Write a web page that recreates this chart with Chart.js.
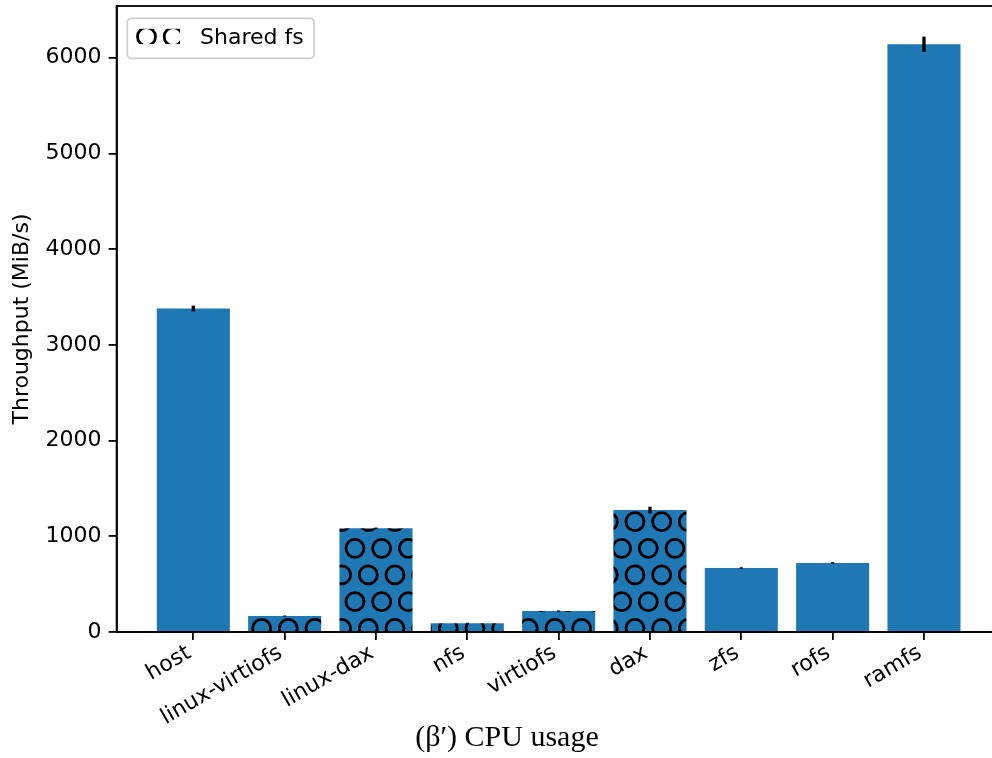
<!DOCTYPE html>
<html>
<head>
<meta charset="utf-8">
<script src="https://cdn.jsdelivr.net/npm/chart.js@4.4.0/dist/chart.umd.min.js"></script>
<style>
  html, body { margin: 0; padding: 0; background: #fff; overflow: hidden; }
  #wrap { width: 1014px; height: 758px; }
</style>
</head>
<body>
<div id="wrap"><canvas id="chart" width="1014" height="758"></canvas></div>
<script>
// Data
const categories = ['host', 'linux-virtiofs', 'linux-dax', 'nfs', 'virtiofs', 'dax', 'zfs', 'rofs', 'ramfs'];
const throughput = [3380, 167, 1083, 92, 219, 1274, 668, 721, 6140];
const errors = [30, 5, 8, 4, 6, 35, 8, 8, 80];
const sharedFs = [false, true, true, true, true, true, false, false, false];
const yTicks = [0, 1000, 2000, 3000, 4000, 5000, 6000];

const BLUE = '#1f77b4';
const SP = 160 / 6; // hatch spacing

// circle hatch tile, rows alternate by half a step (like matplotlib 'O')
function makeHatch(bg, x0, y0) {
    const tile = document.createElement('canvas');
    tile.width = 160;
    tile.height = 160;
    const c = tile.getContext('2d');
    if (bg) {
        c.fillStyle = bg;
        c.fillRect(0, 0, 160, 160);
    }
    c.strokeStyle = '#000';
    c.lineWidth = 2.8;
    for (let r = -2; r <= 8; r++) {
        const shift = (r % 2 === 0) ? 0 : SP / 2;
        for (let j = -2; j <= 8; j++) {
            c.beginPath();
            c.arc(x0 + shift + j * SP, y0 + r * SP, 9.0, 0, Math.PI * 2);
            c.stroke();
        }
    }
    return c.createPattern(tile, 'repeat');
}

const ctx = document.getElementById('chart').getContext('2d');
const barHatch = makeHatch(BLUE, 8.3, 14.97);
const legendHatch = makeHatch(null, 146.5 % SP, 36.7);

Chart.defaults.font.family = '"DejaVu Sans", sans-serif';
Chart.defaults.font.size = 22;
Chart.defaults.color = '#000';

const boxPlugin = {
    id: 'box',
    afterDatasetsDraw(chart) {
        const {ctx, scales: {x, y}} = chart;
        // error bars
        ctx.save();
        ctx.strokeStyle = '#000';
        ctx.lineWidth = 3.3;
        throughput.forEach((v, i) => {
            const px = x.getPixelForValue(i);
            ctx.beginPath();
            ctx.moveTo(px, y.getPixelForValue(v - errors[i]));
            ctx.lineTo(px, y.getPixelForValue(v + errors[i]));
            ctx.stroke();
        });
        ctx.restore();
    },
    afterDraw(chart) {
        const {ctx, chartArea: a} = chart;
        ctx.save();
        ctx.strokeStyle = '#000';
        ctx.lineWidth = 1.8;
        ctx.strokeRect(a.left, a.top, a.right - a.left, a.bottom - a.top);

        // legend
        ctx.beginPath();
        ctx.roundRect(127.3, 18.3, 186.7, 40, 4);
        ctx.fillStyle = 'rgba(255,255,255,0.8)';
        ctx.fill();
        ctx.strokeStyle = '#d0d0d0';
        ctx.lineWidth = 1.8;
        ctx.stroke();
        ctx.save();
        ctx.beginPath();
        ctx.rect(136, 28.6, 44, 15.6);
        ctx.clip();
        ctx.fillStyle = legendHatch;
        ctx.fillRect(136, 28.6, 44, 15.6);
        ctx.restore();
        ctx.fillStyle = '#000';
        ctx.font = '22px "DejaVu Sans"';
        ctx.textBaseline = 'middle';
        ctx.textAlign = 'left';
        ctx.fillText('Shared fs', 200, 38);

        // caption
        ctx.font = '30px "Liberation Serif"';
        ctx.textAlign = 'center';
        ctx.fillText('(\u03B2\u2032) CPU usage', 507, 738);
        ctx.restore();
    }
};

new Chart(ctx, {
    type: 'bar',
    data: {
        datasets: [{
            data: throughput.map((v, i) => ({x: i, y: v})),
            backgroundColor: sharedFs.map(h => h ? barHatch : BLUE),
            borderWidth: 0,
            barPercentage: 0.8,
            categoryPercentage: 1.0
        }]
    },
    options: {
        responsive: false,
        animation: false,
        devicePixelRatio: 1,
        layout: { padding: { top: 6, right: 13.3, left: 0, bottom: 0 } },
        plugins: { legend: { display: false }, tooltip: { enabled: false } },
        scales: {
            x: {
                type: 'linear',
                offset: false,
                min: -0.84,
                max: 8.84,
                grid: { offset: false, drawOnChartArea: false, color: '#000', lineWidth: 1.8, tickLength: 8 },
                border: { color: '#000', width: 1.8 },
                ticks: {
                    autoSkip: false,
                    minRotation: 30,
                    maxRotation: 30,
                    padding: 0,
                    labelOffset: -4,
                    callback: v => categories[v]
                },
                afterBuildTicks: s => { s.ticks = categories.map((c, i) => ({value: i})); },
                afterFit: s => { s.height = 126; s.paddingLeft = 0; s.paddingRight = 0; }
            },
            y: {
                min: 0,
                max: 6540,
                grid: { drawOnChartArea: false, color: '#000', lineWidth: 1.8, tickLength: 8 },
                border: { color: '#000', width: 1.8 },
                ticks: { padding: 7, callback: v => String(v) },
                title: {
                    display: true,
                    text: 'Throughput (MiB/s)',
                    padding: { top: 9, bottom: 0 },
                    font: { size: 22 }
                },
                afterBuildTicks: s => { s.ticks = yTicks.map(v => ({value: v})); },
                afterFit: s => { s.width = 116.6; s.paddingTop = 0; s.paddingBottom = 0; }
            }
        }
    },
    plugins: [boxPlugin]
});
</script>
</body>
</html>
